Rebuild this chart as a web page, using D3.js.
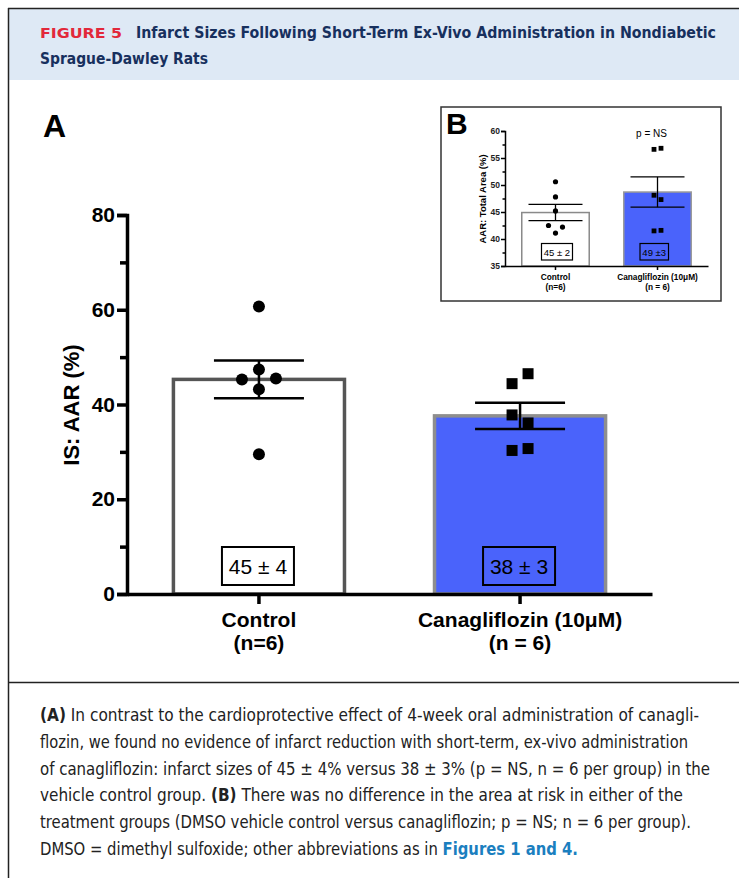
<!DOCTYPE html>
<html>
<head>
<meta charset="utf-8">
<script src="https://cdn.jsdelivr.net/npm/d3@7"></script>
<style>
  body { margin: 0; background: #fff; }
  svg { display: block; }
  .cond { font-family: "Liberation Sans Narrow", "DejaVu Sans Condensed", "Roboto", sans-serif; }
  .arial { font-family: "Liberation Sans", Arial, sans-serif; }
</style>
</head>
<body>
<div id="chart"></div>
<script>
// ---- data ----
var groups = ["Control", "Canagliflozin (10μM)"];
var groupN = ["(n=6)", "(n = 6)"];

// Panel A : IS / AAR (%)
var isMeans = [45.3, 37.6];
var isSem = [4.0, 2.75];
var isControl = [60.7, 47.4, 45.3, 45.5, 43.2, 29.5];
var isCana = [46.5, 44.4, 37.8, 36.1, 30.3, 30.7];
var isLabels = ["45 ± 4", "38 ± 3"];
var isTicks = [0, 20, 40, 60, 80];

// Panel B : AAR / total area (%)
var aarMeans = [44.9, 48.7];
var aarSem = [1.5, 2.8];
var aarControl = [50.6, 47.8, 45.2, 42.5, 42.2, 41.1];
var aarCana = [56.6, 56.8, 48.1, 47.3, 41.5, 41.6];
var aarLabels = ["45 ± 2", "49 ±3"];
var aarTicks = [35, 40, 45, 50, 55, 60];

// scatter column of each point (-1 left, 0 centre, 1 right)
var isControlCol = [0, 0, -1, 1, 0, 0];
var isCanaCol = [1, -1, -1, 1, -1, 1];
var aarControlCol = [0, 0, 0, -1, 1, 0];
var aarCanaCol = [-1, 1, -1, 1, -1, 1];

var captionLines = [
  [["(A)", true], [" In contrast to the cardioprotective effect of 4-week oral administration of canagli-", false]],
  [["flozin, we found no evidence of infarct reduction with short-term, ex-vivo administration", false]],
  [["of canagliflozin: infarct sizes of 45 ± 4% versus 38 ± 3% (p = NS, n = 6 per group) in the", false]],
  [["vehicle control group. ", false], ["(B)", true], [" There was no difference in the area at risk in either of the", false]],
  [["treatment groups (DMSO vehicle control versus canagliflozin; p = NS; n = 6 per group).", false]],
  [["DMSO = dimethyl sulfoxide; other abbreviations as in ", false], ["Figures 1 and 4.", "link"]]
];
var captionWidths = [659, 648, 670, 643, 651, 538];

var W = 739, H = 878;
var svg = d3.select("#chart").append("svg").attr("width", W).attr("height", H);

// ---- frame + header ----
svg.append("rect").attr("x", 9).attr("y", 9).attr("width", W - 9).attr("height", 71).attr("fill", "#dee9f5");
svg.append("line").attr("x1", 8.5).attr("x2", 8.5).attr("y1", 8).attr("y2", H).attr("stroke", "#222").attr("stroke-width", 1.5);
svg.append("line").attr("x1", 8).attr("x2", W).attr("y1", 8.5).attr("y2", 8.5).attr("stroke", "#222").attr("stroke-width", 1.5);
svg.append("line").attr("x1", 8).attr("x2", W).attr("y1", 682.5).attr("y2", 682.5).attr("stroke", "#222").attr("stroke-width", 1.5);

svg.append("text").attr("class", "cond").attr("x", 40).attr("y", 38)
  .attr("font-size", 14).attr("font-weight", "bold").attr("fill", "#e2283a")
  .attr("textLength", 82).attr("lengthAdjust", "spacingAndGlyphs").text("FIGURE 5");
svg.append("text").attr("class", "cond").attr("x", 136).attr("y", 38)
  .attr("font-size", 16).attr("font-weight", "bold").attr("fill", "#17305e")
  .attr("textLength", 580).attr("lengthAdjust", "spacingAndGlyphs")
  .text("Infarct Sizes Following Short-Term Ex-Vivo Administration in Nondiabetic");
svg.append("text").attr("class", "cond").attr("x", 40).attr("y", 64)
  .attr("font-size", 16).attr("font-weight", "bold").attr("fill", "#17305e")
  .attr("textLength", 168).attr("lengthAdjust", "spacingAndGlyphs")
  .text("Sprague-Dawley Rats");

// ---- caption ----
captionLines.forEach(function(line, i) {
  var t = svg.append("text").attr("class", "cond").attr("x", 40).attr("y", 721 + i * 26.8)
    .attr("font-size", 17).attr("fill", "#222")
    .attr("textLength", captionWidths[i]).attr("lengthAdjust", "spacingAndGlyphs");
  line.forEach(function(seg) {
    t.append("tspan").text(seg[0])
      .attr("font-weight", seg[1] ? "bold" : "normal")
      .attr("fill", seg[1] === "link" ? "#1b7fbf" : "#222");
  });
});

// ================= Panel A =================
var y = d3.scaleLinear().domain([0, 80]).range([594, 215]);
var x = d3.scaleBand().domain(groups).range([127, 652]).paddingInner(1 / 3).paddingOuter(0.172);

var gA = svg.append("g").attr("class", "arial");

gA.append("text").attr("x", 43).attr("y", 137).attr("font-size", 32).attr("font-weight", "bold").text("A");

// bars
var fillA = ["#ffffff", "#4a63fb"];
var strokeA = ["#555555", "#8e8e8e"];
gA.selectAll("rect.bar").data(groups).enter().append("rect")
  .attr("class", "bar")
  .attr("x", function(d) { return x(d) + 1.5; })
  .attr("width", x.bandwidth() - 3)
  .attr("y", function(d, i) { return y(isMeans[i]); })
  .attr("height", function(d, i) { return y(0) - y(isMeans[i]); })
  .attr("fill", function(d, i) { return fillA[i]; })
  .attr("stroke", function(d, i) { return strokeA[i]; })
  .attr("stroke-width", 3.5);

// value boxes
gA.selectAll("rect.vbox").data(groups).enter().append("rect")
  .attr("class", "vbox")
  .attr("x", function(d) { return x(d) + x.bandwidth() / 2 - 37; })
  .attr("y", 547).attr("width", 72).attr("height", 38)
  .attr("fill", function(d, i) { return fillA[i]; })
  .attr("stroke", "#000").attr("stroke-width", 2);
gA.selectAll("text.vlab").data(groups).enter().append("text")
  .attr("class", "vlab")
  .attr("x", function(d) { return x(d) + x.bandwidth() / 2 - 1; })
  .attr("y", 574).attr("text-anchor", "middle").attr("font-size", 21)
  .text(function(d, i) { return isLabels[i]; });

// points
function cx(g, col, off) { return x(g) + x.bandwidth() / 2 + col * off; }
gA.selectAll("circle.pt").data(isControl).enter().append("circle")
  .attr("class", "pt")
  .attr("cx", function(d, i) { return cx(groups[0], isControlCol[i], 17); })
  .attr("cy", function(d) { return y(d); })
  .attr("r", 6).attr("fill", "#000");
gA.selectAll("rect.sq").data(isCana).enter().append("rect")
  .attr("class", "sq")
  .attr("x", function(d, i) { return cx(groups[1], isCanaCol[i], 8) - 5.5; })
  .attr("y", function(d) { return y(d) - 5.5; })
  .attr("width", 11).attr("height", 11).attr("fill", "#000");

// error bars
function errBars(g, xs, ys, means, sems, capHalf, sw) {
  groups.forEach(function(grp, i) {
    var c = xs(grp) + xs.bandwidth() / 2;
    var top = ys(means[i] + sems[i]), bot = ys(means[i] - sems[i]);
    g.append("line").attr("x1", c).attr("x2", c).attr("y1", top).attr("y2", bot).attr("stroke", "#000").attr("stroke-width", sw);
    [top, bot].forEach(function(yy) {
      g.append("line").attr("x1", c - capHalf).attr("x2", c + capHalf).attr("y1", yy).attr("y2", yy)
        .attr("stroke", "#000").attr("stroke-width", sw);
    });
  });
}
errBars(gA, x, y, isMeans, isSem, 45, 2.5);

// axes
var yAxis = gA.append("g").attr("transform", "translate(127,0)")
  .call(d3.axisLeft(y).tickValues(isTicks).tickSize(10).tickPadding(2));
gA.append("g").attr("transform", "translate(127,0)")
  .call(d3.axisLeft(y).tickValues([10, 30, 50, 70]).tickSize(7).tickFormat(""))
  .call(function(g) { g.select(".domain").remove(); });
var xAxis = gA.append("g").attr("transform", "translate(0,594)")
  .call(d3.axisBottom(x).tickSizeInner(10).tickSizeOuter(0).tickFormat(""));
gA.selectAll(".domain").attr("stroke", "#000").attr("stroke-width", 3.5);
gA.selectAll(".tick line").attr("stroke", "#000").attr("stroke-width", 3.5);
yAxis.selectAll(".tick text").attr("font-size", 21).attr("font-weight", "bold")
  .attr("font-family", "Liberation Sans, Arial, sans-serif").attr("fill", "#000");

// x labels
groups.forEach(function(grp, i) {
  var c = x(grp) + x.bandwidth() / 2;
  gA.append("text").attr("x", c).attr("y", 627).attr("text-anchor", "middle")
    .attr("font-size", 21).attr("font-weight", "bold").text(grp);
  gA.append("text").attr("x", c).attr("y", 650).attr("text-anchor", "middle")
    .attr("font-size", 21).attr("font-weight", "bold").text(groupN[i]);
});

gA.append("text").attr("transform", "translate(79,405) rotate(-90)").attr("text-anchor", "middle")
  .attr("font-size", 22).attr("font-weight", "bold").text("IS: AAR (%)");

// ================= Panel B (inset) =================
var gB = svg.append("g").attr("class", "arial");
gB.append("rect").attr("x", 441).attr("y", 107).attr("width", 280).attr("height", 194)
  .attr("fill", "#fff").attr("stroke", "#333").attr("stroke-width", 1.5);
gB.append("text").attr("x", 446).attr("y", 134).attr("font-size", 30).attr("font-weight", "bold").text("B");

var y2 = d3.scaleLinear().domain([35, 60]).range([266, 131]);
var x2 = d3.scaleBand().domain(groups).range([505, 708]).paddingInner(0.324).paddingOuter(0.157);

var fillB = ["#ffffff", "#4a63fb"];
var strokeB = ["#8a8a8a", "#9a9a9a"];
gB.selectAll("rect.bar").data(groups).enter().append("rect")
  .attr("class", "bar")
  .attr("x", function(d) { return x2(d) + 0.75; })
  .attr("width", x2.bandwidth() - 1.5)
  .attr("y", function(d, i) { return y2(aarMeans[i]); })
  .attr("height", function(d, i) { return y2(35) - y2(aarMeans[i]); })
  .attr("fill", function(d, i) { return fillB[i]; })
  .attr("stroke", function(d, i) { return strokeB[i]; })
  .attr("stroke-width", 1.5);

gB.selectAll("rect.vbox").data(groups).enter().append("rect")
  .attr("class", "vbox")
  .attr("x", function(d, i) { return x2(d) + x2.bandwidth() / 2 - (i ? 17.5 : 14); })
  .attr("y", 243.5).attr("width", function(d, i) { return i ? 28.5 : 31; }).attr("height", 16.5)
  .attr("fill", function(d, i) { return fillB[i]; })
  .attr("stroke", "#000").attr("stroke-width", 1.2);
gB.selectAll("text.vlab").data(groups).enter().append("text")
  .attr("class", "vlab")
  .attr("x", function(d, i) { return x2(d) + x2.bandwidth() / 2 + (i ? -3.3 : 1.5); })
  .attr("y", 255.5).attr("text-anchor", "middle").attr("font-size", 9.5)
  .text(function(d, i) { return aarLabels[i]; });

gB.selectAll("circle.pt").data(aarControl).enter().append("circle")
  .attr("class", "pt")
  .attr("cx", function(d, i) { return x2(groups[0]) + x2.bandwidth() / 2 + aarControlCol[i] * 7; })
  .attr("cy", function(d) { return y2(d); })
  .attr("r", 2.6).attr("fill", "#000");
gB.selectAll("rect.sq").data(aarCana).enter().append("rect")
  .attr("class", "sq")
  .attr("x", function(d, i) { return x2(groups[1]) + x2.bandwidth() / 2 + aarCanaCol[i] * 3.5 - 2.4; })
  .attr("y", function(d) { return y2(d) - 2.4; })
  .attr("width", 4.8).attr("height", 4.8).attr("fill", "#000");

errBars(gB, x2, y2, aarMeans, aarSem, 27, 1.3);

var y2Axis = gB.append("g").attr("transform", "translate(505,0)")
  .call(d3.axisLeft(y2).tickValues(aarTicks).tickSize(4).tickPadding(1));
gB.append("g").attr("transform", "translate(505,0)")
  .call(d3.axisLeft(y2).tickValues([37.5, 42.5, 47.5, 52.5, 57.5]).tickSize(2.5).tickFormat(""))
  .call(function(g) { g.select(".domain").remove(); });
gB.append("g").attr("transform", "translate(0,266)")
  .call(d3.axisBottom(x2).tickSizeInner(4).tickSizeOuter(0).tickFormat(""));
gB.selectAll(".domain").attr("stroke", "#000").attr("stroke-width", 1.5);
gB.selectAll(".tick line").attr("stroke", "#000").attr("stroke-width", 1.5);
y2Axis.selectAll(".tick text").attr("font-size", 8.5).attr("font-weight", "bold")
  .attr("font-family", "Liberation Sans, Arial, sans-serif").attr("fill", "#222");

groups.forEach(function(grp, i) {
  var c = x2(grp) + x2.bandwidth() / 2;
  gB.append("text").attr("x", c).attr("y", 280).attr("text-anchor", "middle")
    .attr("font-size", 8.3).attr("font-weight", "bold").text(grp);
  gB.append("text").attr("x", c).attr("y", 289.5).attr("text-anchor", "middle")
    .attr("font-size", 8.3).attr("font-weight", "bold").text(groupN[i]);
});
gB.append("text").attr("transform", "translate(486,199) rotate(-90)").attr("text-anchor", "middle")
  .attr("font-size", 9.5).attr("font-weight", "bold").text("AAR: Total Area (%)");
gB.append("text").attr("x", x2(groups[1]) + x2.bandwidth() / 2 - 6).attr("y", 137).attr("text-anchor", "middle")
  .attr("font-size", 10).text("p = NS");
</script>
</body>
</html>
